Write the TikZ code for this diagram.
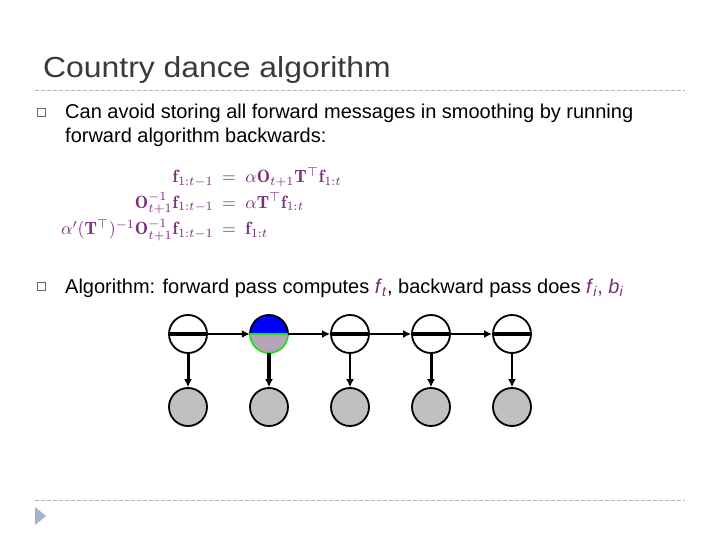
\documentclass[tikz,border=0pt]{standalone}
\usepackage{fontspec}
\usetikzlibrary{arrows.meta,patterns}
\newfontfamily\arial{Liberation Sans}
\newfontfamily\titlefont[FakeStretch=1.1]{Liberation Sans}
\definecolor{eqpurple}{HTML}{7A2E7E}
\definecolor{titlegray}{HTML}{3A3A3A}
\definecolor{dashgray}{HTML}{B4B4B4}
\definecolor{tri}{HTML}{A3B2CC}
\definecolor{nodegray}{HTML}{C0C0C0}
\definecolor{hgreen}{HTML}{22DD22}
\definecolor{hatchbase}{HTML}{A8A4AC}
\definecolor{hatchline}{HTML}{D2A6D6}
\tikzset{
  txt/.style={anchor=base west, inner sep=0pt, font=\arial\fontsize{20}{24}\selectfont},
  bul/.style={draw=black!60, line width=0.6pt, minimum size=8pt, inner sep=0pt},
  eq/.style={inner sep=0pt, text=eqpurple, scale=1.78},
  hid/.style={circle, draw, line width=1.8pt, minimum size=38pt, inner sep=0pt, fill=white},
  obs/.style={hid, fill=nodegray},
  chainarr/.style={line width=2.4pt, -{Latex[length=8pt,width=8pt]}},
  vline/.style={-{Latex[length=8pt,width=8pt]}},
  sep/.style={dashgray, line width=1pt, dash pattern=on 4pt off 2pt}
}
\begin{document}
\begin{tikzpicture}[x=1pt,y=1pt]
\useasboundingbox (0,0) rectangle (720,-540);
\fill[white] (0,0) rectangle (720,-540);

% title
\node[anchor=base west, inner sep=0pt, font=\titlefont\fontsize{29}{34}\selectfont, text=titlegray] (title) at (43,-78) {Country dance algorithm};
\draw[sep] (35,-91) -- (685,-91);

% bullet 1
\node[bul] (b1) at (41,-112) {};
\node[txt] (t1) at (65,-119) {Can avoid storing all forward messages in smoothing by running};
\node[txt] (t2) at (65,-143) {forward algorithm backwards:};

% equations
\node[eq, anchor=base east] (l1) at (214,-183) {$\mathbf{f}_{1:t-1}$};
\node[eq, anchor=base] (e1) at (229,-183) {$=$};
\node[eq, anchor=base west] (r1) at (245,-183) {$\alpha\mathbf{O}_{t+1}\mathbf{T}^{\top}\mathbf{f}_{1:t}$};
\node[eq, anchor=base east] (l2) at (214,-208) {$\mathbf{O}_{t+1}^{-1}\mathbf{f}_{1:t-1}$};
\node[eq, anchor=base] (e2) at (229,-208) {$=$};
\node[eq, anchor=base west] (r2) at (245,-208) {$\alpha\mathbf{T}^{\top}\mathbf{f}_{1:t}$};
\node[eq, anchor=base east] (l3) at (214,-235) {$\alpha'(\mathbf{T}^{\top})^{-1}\mathbf{O}_{t+1}^{-1}\mathbf{f}_{1:t-1}$};
\node[eq, anchor=base] (e3) at (229,-235) {$=$};
\node[eq, anchor=base west] (r3) at (245,-235) {$\mathbf{f}_{1:t}$};

% bullet 2
\node[bul] (b2) at (41,-286) {};
\node[txt] (t3) at (65,-293) {Algorithm: forward pass computes \textcolor{eqpurple}{\textit{f}\textsubscript{\textit{t}}}, backward pass does \textcolor{eqpurple}{\textit{f}\textsubscript{\textit{i}}, \textit{b}\textsubscript{\textit{i}}}};

% hidden nodes
\node[hid] (h1) at (188,-334) {};
\node[circle, minimum size=38pt, inner sep=0pt] (h2) at (269,-334) {};
\node[hid] (h3) at (350,-334) {};
\node[hid] (h4) at (431,-334) {};
\node[hid] (h5) at (512,-334) {};
% observed nodes
\node[obs] (o1) at (188,-407) {};
\node[obs] (o2) at (269,-407) {};
\node[obs] (o3) at (350,-407) {};
\node[obs] (o4) at (431,-407) {};
\node[obs] (o5) at (512,-407) {};

% special node h2
\fill[blue] (h2.center) ++(-19,0) arc[start angle=180, end angle=0, radius=19pt] -- cycle;
\fill[hatchbase] (h2.center) ++(19,0) arc[start angle=0, end angle=-180, radius=19pt] -- cycle;
\fill[pattern=north east lines, pattern color=hatchline] (h2.center) ++(19,0) arc[start angle=0, end angle=-180, radius=19pt] -- cycle;
\draw[line width=1.8pt] (h2.center) ++(-19,0) arc[start angle=180, end angle=0, radius=19pt];
\draw[hgreen, line width=1.8pt] (h2.center) ++(19,0) arc[start angle=0, end angle=-180, radius=19pt] -- cycle;

% thick lines inside the white hidden nodes
\foreach \n in {h1,h3,h4,h5}
  \draw[line width=4.5pt] (\n.center) ++(-19,0) -- ++(38,0);

% chain arrows
\draw[chainarr] (h1.east) -- (h2.west);
\draw[chainarr] (h2.east) -- (h3.west);
\draw[chainarr] (h3.east) -- (h4.west);
\draw[chainarr] (h4.east) -- (h5.west);

% emission arrows
\draw[vline, line width=3pt] (h1.south) -- (o1.north);
\draw[vline, line width=3.8pt] (h2.south) -- (o2.north);
\draw[vline, line width=2.2pt] (h3.south) -- (o3.north);
\draw[vline, line width=3pt] (h4.south) -- (o4.north);
\draw[vline, line width=2.2pt] (h5.south) -- (o5.north);

% footer
\draw[sep] (35,-500) -- (685,-500);
\fill[tri] (35,-507) -- (46,-516) -- (35,-525) -- cycle;
\end{tikzpicture}
\end{document}
